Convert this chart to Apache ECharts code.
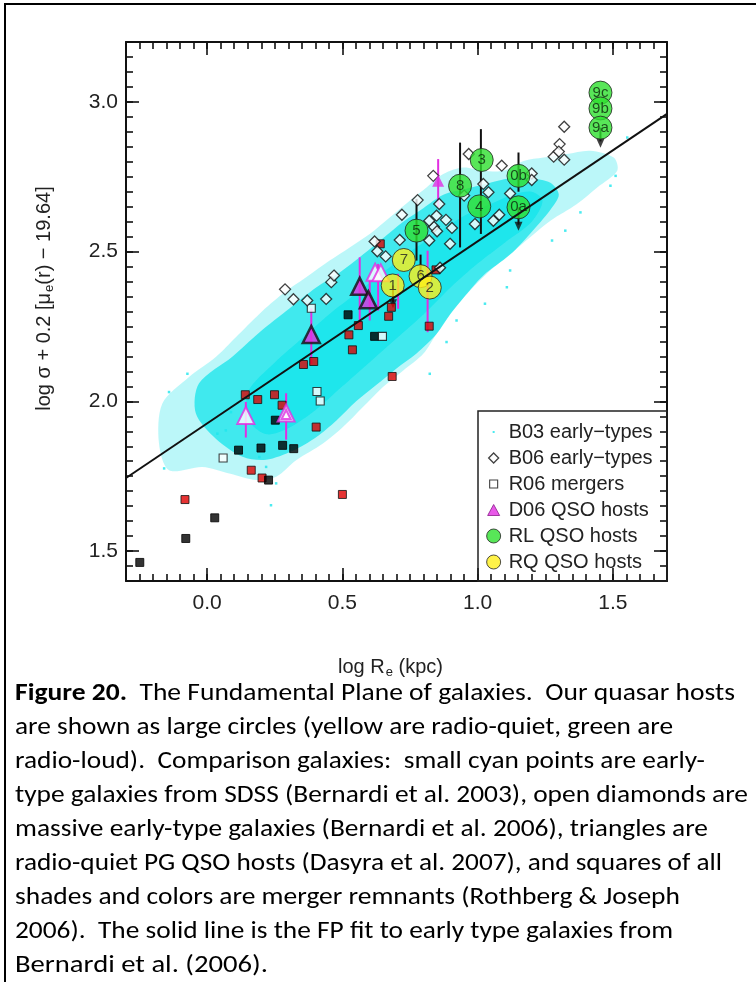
<!DOCTYPE html>
<html>
<head>
<meta charset="utf-8">
<title>Fundamental Plane of galaxies</title>
<script src="https://cdn.jsdelivr.net/npm/echarts@6/dist/echarts.min.js"></script>
<style>
  html, body { margin: 0; padding: 0; background: #fff; overflow: hidden; }
  #frame { position: absolute; left: 4px; top: 3px; width: 800px; height: 1000px;
           border-left: 2px solid #000; border-top: 2px solid #000; }
  #chart { position: absolute; left: 0; top: 0; width: 756px; height: 982px; }
  #caption { position: absolute; left: 15px; top: 675px; color: #000;
             font-family: Carlito, Lato, "Open Sans", sans-serif; font-size: 24px; line-height: 34px; }
  #caption div { white-space: nowrap; transform-origin: 0 50%; }
</style>
</head>
<body>
<div id="frame"></div>
<div id="chart"></div>
<div id="caption"></div>
<script>
// axes
const xMin = -0.3, xMax = 1.7;
const yMin = 1.4, yMax = 3.2;
const xMajor = [0.0, 0.5, 1.0, 1.5];
const yMajor = [1.5, 2.0, 2.5, 3.0];

// B03 early-types (SDSS) - outline of the dense core, the surrounding cloud and the sparse halo
const coreX = [0.150, 0.250, 0.350, 0.450, 0.550, 0.650, 0.750, 0.850, 0.950, 1.050, 1.130, 1.200, 1.240,
               1.200, 1.100, 1.000, 0.900, 0.800, 0.700, 0.600, 0.500, 0.400, 0.300, 0.220, 0.160];
const coreY = [2.030, 2.130, 2.210, 2.290, 2.360, 2.430, 2.500, 2.560, 2.620, 2.660, 2.690, 2.700, 2.670,
               2.600, 2.530, 2.460, 2.380, 2.290, 2.210, 2.130, 2.050, 1.970, 1.910, 1.890, 1.930];
const midX = [-0.030, 0.094, 0.193, 0.304, 0.403, 0.490, 0.576, 0.650, 0.725, 0.799, 0.873, 0.959, 1.046, 1.120, 1.194, 1.269, 1.300,
              1.269, 1.194, 1.120, 1.021, 0.947, 0.898, 0.848, 0.774, 0.700, 0.626, 0.551, 0.477, 0.403, 0.317, 0.218, 0.131, 0.032, -0.042];
const midY = [2.060, 2.150, 2.230, 2.310, 2.380, 2.430, 2.490, 2.545, 2.600, 2.645, 2.690, 2.710, 2.730, 2.745, 2.745, 2.730, 2.690,
              2.640, 2.560, 2.490, 2.420, 2.345, 2.290, 2.225, 2.160, 2.110, 2.055, 2.000, 1.935, 1.880, 1.835, 1.805, 1.815, 1.875, 1.960];
const haloX = [-0.166, -0.067, 0.032, 0.106, 0.193, 0.279, 0.366, 0.453, 0.527, 0.601, 0.675, 0.749, 0.811, 0.873, 0.947, 1.021,
               1.095, 1.170, 1.244, 1.330, 1.417, 1.503, 1.516, 1.442, 1.367, 1.269, 1.194, 1.120, 1.046, 0.972, 0.898, 0.848,
               0.799, 0.725, 0.650, 0.576, 0.502, 0.428, 0.329, 0.255, 0.181, 0.082, -0.017, -0.141, -0.178];
const haloY = [1.992, 2.081, 2.148, 2.214, 2.292, 2.359, 2.414, 2.470, 2.514, 2.559, 2.614, 2.670, 2.714, 2.759, 2.781, 2.770,
               2.770, 2.803, 2.814, 2.826, 2.837, 2.814, 2.770, 2.714, 2.659, 2.603, 2.548, 2.492, 2.437, 2.370, 2.292, 2.226,
               2.159, 2.103, 2.048, 1.981, 1.914, 1.859, 1.803, 1.748, 1.737, 1.759, 1.781, 1.770, 1.859];
// stray B03 points
const b03X = [-0.141, -0.073, -0.159, 0.038, 0.069, 0.088, 0.193, 0.218, 0.236, 0.255, 1.491, 1.510, 1.553, 1.380, 1.324,
              1.275, 1.120, 1.108, 1.027, 0.922, 0.885, 0.823];
const b03Y = [2.031, 2.092, 1.776, 1.892, 1.903, 1.964, 1.814, 1.781, 1.653, 1.726, 2.720, 2.753, 2.881, 2.631, 2.570,
              2.537, 2.437, 2.381, 2.326, 2.270, 2.198, 2.092];

// B06 early-types (open diamonds)
const b06X = [0.288, 0.319, 0.370, 0.440, 0.459, 0.469, 0.619, 0.629, 0.660, 0.712, 0.720, 0.778, 0.821, 0.838, 0.848,
              0.858, 0.836, 0.883, 0.905, 0.898, 0.821, 0.850, 0.967, 0.990, 1.021, 1.040, 1.058, 1.080, 1.089, 1.120,
              1.200, 1.200, 1.320, 1.303, 1.281, 1.300, 1.320, 0.861, 0.950];
const b06Y = [2.374, 2.341, 2.337, 2.342, 2.398, 2.420, 2.534, 2.501, 2.484, 2.539, 2.623, 2.672, 2.537, 2.583, 2.620,
              2.659, 2.753, 2.606, 2.579, 2.526, 2.603, 2.568, 2.826, 2.592, 2.726, 2.698, 2.603, 2.623, 2.787, 2.694,
              2.761, 2.739, 2.917, 2.859, 2.817, 2.834, 2.807, 2.446, 2.687];

// R06 mergers: open, red and black squares
const r06OpenX = [0.059, 0.406, 0.418, 0.648, 0.385];
const r06OpenY = [1.811, 2.033, 2.001, 2.217, 2.311];
const r06RedX = [-0.082, 0.163, 0.203, 0.141, 0.187, 0.249, 0.277, 0.403, 0.500, 0.356, 0.394, 0.537, 0.524, 0.559,
                 0.684, 0.640, 0.671, 0.681, 0.821, 0.846];
const r06RedY = [1.672, 1.770, 1.744, 2.022, 2.006, 2.022, 1.987, 1.914, 1.689, 2.123, 2.133, 2.172, 2.222, 2.253,
                 2.083, 2.526, 2.284, 2.314, 2.251, 2.439];
const r06BlackX = [-0.249, -0.079, 0.028, 0.116, 0.199, 0.279, 0.320, 0.252, 0.227, 0.521, 0.619];
const r06BlackY = [1.462, 1.542, 1.611, 1.837, 1.844, 1.853, 1.842, 1.937, 1.737, 2.289, 2.217];

// D06 QSO hosts (triangles)
const d06X = [0.385, 0.564, 0.596];
const d06Y = [2.223, 2.384, 2.339];
const d06OpenX = [0.143, 0.292, 0.621, 0.642];
const d06OpenY = [1.953, 1.961, 2.431, 2.429];
const d06PlainX = [0.854];
const d06PlainY = [2.737];
const d06BarX = [0.143, 0.292, 0.385, 0.564, 0.601, 0.632, 0.706, 0.815, 0.854];
const d06BarLo = [1.879, 1.872, 2.125, 2.259, 2.270, 2.303, 2.309, 2.231, 2.648];
const d06BarHi = [1.998, 2.027, 2.310, 2.481, 2.403, 2.459, 2.426, 2.503, 2.809];

// our quasar hosts
const rlNames = ['9c', '9b', '9a', '3', '8', '4', '0b', '0a', '5'];
const rlX = [1.454, 1.454, 1.454, 1.015, 0.935, 1.006, 1.151, 1.151, 0.774];
const rlY = [3.031, 2.978, 2.914, 2.806, 2.720, 2.651, 2.753, 2.648, 2.570];
const rqNames = ['7', '1', '6', '2'];
const rqX = [0.727, 0.686, 0.789, 0.823];
const rqY = [2.472, 2.387, 2.418, 2.380];
const qsoBarX = [0.935, 1.012, 1.151, 0.774, 1.151, 1.454, 0.687, 0.789];
const qsoBarLo = [2.514, 2.559, 2.700, 2.470, 2.590, 2.868, 2.330, 2.418];
const qsoBarHi = [2.864, 2.909, 2.831, 2.676, 2.648, 2.914, 2.387, 2.490];
const limitX = [1.151, 1.454, 0.687];
const limitY = [2.585, 2.862, 2.326];

// FP fit (Bernardi et al. 2006)
const fitX = [-0.3, 1.7];
const fitY = [1.744, 2.960];

const captionLines = [
  '<b>Figure 20.</b>&nbsp; The Fundamental Plane of galaxies.&nbsp; Our quasar hosts',
  'are shown as large circles (yellow are radio-quiet, green are',
  'radio-loud).&nbsp; Comparison galaxies:&nbsp; small cyan points are early-',
  'type galaxies from SDSS (Bernardi et al. 2003), open diamonds are',
  'massive early-type galaxies (Bernardi et al. 2006), triangles are',
  'radio-quiet PG QSO hosts (Dasyra et al. 2007), and squares of all',
  'shades and colors are merger remnants (Rothberg &amp; Joseph',
  '2006).&nbsp; The solid line is the FP fit to early type galaxies from',
  'Bernardi et al. (2006).'
];
const captionEnds = [735, 673, 705, 748, 708, 722, 680, 673, 268];

const pairs = (xs, ys) => xs.map((x, i) => [x, ys[i]]);
const CYAN = '#1ee6ec';
const MAGENTA = '#e22ee2';
const FONT = 'Liberation Sans';

function polygonSeries(xs, ys, fill) {
  return {
    type: 'custom', silent: true, clip: true,
    data: pairs(xs, ys),
    renderItem: (params, api) => {
      if (params.dataIndex !== 0) return;
      const pts = xs.map((x, i) => api.coord([x, ys[i]]));
      return { type: 'polygon', shape: { points: pts, smooth: 0.3 }, style: { fill: fill } };
    }
  };
}

function barSeries(xs, lo, hi, color) {
  return {
    type: 'custom', silent: true,
    data: xs.map((x, i) => [x, lo[i], hi[i]]),
    encode: { x: 0, y: [1, 2] },
    renderItem: (params, api) => {
      const a = api.coord([api.value(0), api.value(1)]);
      const b = api.coord([api.value(0), api.value(2)]);
      return { type: 'line', shape: { x1: a[0], y1: a[1], x2: b[0], y2: b[1] },
               style: { stroke: color, lineWidth: 2 } };
    }
  };
}

function xAxisOf(pos, major) {
  const ax = {
    type: 'value', min: xMin, max: xMax, position: pos,
    splitLine: { show: false },
    axisLine: { show: major, onZero: false, lineStyle: { color: '#111', width: 2 } },
    axisTick: { inside: true, length: major ? 13 : 7, lineStyle: { color: '#111', width: 1.6 } },
    axisLabel: { show: false }
  };
  if (major) ax.axisTick.customValues = xMajor; else ax.interval = 0.05;
  return ax;
}
function yAxisOf(pos, major) {
  const ax = {
    type: 'value', min: yMin, max: yMax, position: pos,
    splitLine: { show: false },
    axisLine: { show: major, onZero: false, lineStyle: { color: '#111', width: 2 } },
    axisTick: { inside: true, length: major ? 13 : 7, lineStyle: { color: '#111', width: 1.6 } },
    axisLabel: { show: false }
  };
  if (major) ax.axisTick.customValues = yMajor; else ax.interval = 0.05;
  return ax;
}

const xBottom = xAxisOf('bottom', true);
xBottom.axisLabel = { show: true, customValues: xMajor, formatter: v => v.toFixed(1),
                      margin: 12, fontSize: 21, color: '#222', fontFamily: FONT };
xBottom.name = '{a|log R}{s|e}{a| (kpc)}';
xBottom.nameLocation = 'middle';
xBottom.nameGap = 74;
xBottom.nameTextStyle = { color: '#222', fontFamily: FONT, padding: [0, 12, 0, 0],
  rich: { a: { fontSize: 20, lineHeight: 24, color: '#222', fontFamily: FONT },
          s: { fontSize: 13, lineHeight: 14, padding: [10, 0, 0, 1], color: '#222', fontFamily: FONT } } };

const yLeft = yAxisOf('left', true);
yLeft.axisLabel = { show: true, customValues: yMajor, formatter: v => v.toFixed(1),
                    margin: 8, fontSize: 21, color: '#222', fontFamily: FONT };
yLeft.name = '{a|log σ + 0.2 [μ}{s|e}{a|(r) − 19.64]}';
yLeft.nameLocation = 'middle';
yLeft.nameGap = 70;
yLeft.nameTextStyle = { color: '#222', fontFamily: FONT, padding: [0, 0, 0, 26],
  rich: { a: { fontSize: 20, lineHeight: 24, color: '#222', fontFamily: FONT },
          s: { fontSize: 13, lineHeight: 14, padding: [10, 0, 0, 1], color: '#222', fontFamily: FONT } } };

const rect = 'path://M0,0M14,14M3,3L11,3L11,11L3,11Z';
const chart = echarts.init(document.getElementById('chart'));
chart.setOption({
  animation: false,
  backgroundColor: 'transparent',
  grid: { left: 126, top: 42, right: 89, bottom: 401, containLabel: false, outerBoundsMode: 'none' },
  xAxis: [xBottom, xAxisOf('bottom', false), xAxisOf('top', true), xAxisOf('top', false)],
  yAxis: [yLeft, yAxisOf('left', false), yAxisOf('right', true), yAxisOf('right', false)],
  legend: {
    orient: 'vertical', left: 478, top: 410, padding: [12, 0, 0, 8],
    itemGap: 6, itemWidth: 14, itemHeight: 14, selectedMode: false,
    textStyle: { fontSize: 20, lineHeight: 18, color: '#222', fontFamily: FONT, padding: [0, 0, 0, 3] },
    data: [
      { name: 'B03 early−types', icon: 'path://M0,0M14,14M6,6L8,6L8,8L6,8Z', itemStyle: { color: CYAN, borderWidth: 0 } },
      { name: 'B06 early−types', icon: 'path://M0,0M14,14M7,2L12,7L7,12L2,7Z', itemStyle: { color: '#fff', borderColor: '#111', borderWidth: 1.3 } },
      { name: 'R06 mergers', icon: rect, itemStyle: { color: '#fff', borderColor: '#111', borderWidth: 1.1 } },
      { name: 'D06 QSO hosts', icon: 'path://M0,0M14,14M7,1.5L13,12.5L1,12.5Z', itemStyle: { color: MAGENTA, borderColor: '#8a1a8a', borderWidth: 1 } },
      { name: 'RL QSO hosts', icon: 'circle', itemStyle: { color: '#2ee02e', borderColor: '#222', borderWidth: 1 } },
      { name: 'RQ QSO hosts', icon: 'circle', itemStyle: { color: '#ffef1a', borderColor: '#222', borderWidth: 1 } }
    ]
  },
  graphic: [
    { type: 'rect', z: 100, silent: true, shape: { x: 478, y: 411, width: 189, height: 170 },
      style: { fill: 'none', stroke: '#222', lineWidth: 1.5 } }
  ],
  series: [
    polygonSeries(haloX, haloY, 'rgba(30,230,236,0.3)'),
    polygonSeries(midX, midY, 'rgba(30,230,236,0.78)'),
    polygonSeries(coreX, coreY, CYAN),
    { name: 'B03 early−types', type: 'scatter', data: pairs(b03X, b03Y), symbol: 'rect', symbolSize: 2.5,
      itemStyle: { color: CYAN } },
    { type: 'line', data: pairs(fitX, fitY), symbol: 'none', silent: true,
      lineStyle: { color: '#111', width: 2 } },
    barSeries(qsoBarX, qsoBarLo, qsoBarHi, '#111'),
    barSeries(d06BarX, d06BarLo, d06BarHi, MAGENTA),
    { type: 'scatter', data: pairs(limitX, limitY), symbol: 'triangle', symbolRotate: 180, symbolSize: [8, 9],
      itemStyle: { color: '#111' } },
    { type: 'scatter', data: pairs(r06RedX, r06RedY), symbol: 'rect', symbolSize: 8,
      itemStyle: { color: '#e00000', borderColor: '#111', borderWidth: 1 } },
    { type: 'scatter', data: pairs(r06BlackX, r06BlackY), symbol: 'rect', symbolSize: 8,
      itemStyle: { color: '#000', borderColor: '#000', borderWidth: 1 } },
    { name: 'R06 mergers', type: 'scatter', data: pairs(r06OpenX, r06OpenY), symbol: 'rect', symbolSize: 8,
      itemStyle: { color: '#fff', borderColor: '#111', borderWidth: 1.1 } },
    { name: 'B06 early−types', type: 'scatter', data: pairs(b06X, b06Y), symbol: 'diamond', symbolSize: 11,
      itemStyle: { color: '#fff', borderColor: '#111', borderWidth: 1.3 } },
    { type: 'scatter', data: pairs(d06OpenX, d06OpenY).concat([{ value: [d06OpenX[1], d06OpenY[1] - 0.005], symbolSize: 9 }]),
      symbol: 'triangle', symbolSize: 17,
      itemStyle: { color: '#fff', borderColor: MAGENTA, borderWidth: 2 } },
    { type: 'scatter', data: pairs(d06PlainX, d06PlainY), symbol: 'triangle', symbolSize: 12,
      itemStyle: { color: MAGENTA } },
    { name: 'D06 QSO hosts', type: 'scatter', data: pairs(d06X, d06Y), symbol: 'triangle', symbolSize: 17,
      itemStyle: { color: MAGENTA, borderColor: '#111', borderWidth: 2.5 } },
    { name: 'RL QSO hosts', type: 'scatter', symbolSize: 23,
      data: rlNames.map((n, i) => ({ name: n, value: [rlX[i], rlY[i]] })),
      itemStyle: { color: '#2ee02e', borderColor: '#222', borderWidth: 1 },
      label: { show: true, position: 'inside', formatter: '{b}', fontSize: 15, color: '#0d260d', fontFamily: FONT } },
    { name: 'RQ QSO hosts', type: 'scatter', symbolSize: 23,
      data: rqNames.map((n, i) => ({ name: n, value: [rqX[i], rqY[i]] })),
      itemStyle: { color: '#ffef1a', borderColor: '#222', borderWidth: 1 },
      label: { show: true, position: 'inside', formatter: '{b}', fontSize: 15, color: '#222', fontFamily: FONT } }
  ]
});

// caption: one div per printed line, stretched to the line widths of the original
const cap = document.getElementById('caption');
captionLines.forEach((html, i) => {
  const d = document.createElement('div');
  const span = document.createElement('span');
  span.innerHTML = html;
  d.appendChild(span);
  cap.appendChild(d);
  const w = span.getBoundingClientRect().width;
  const target = captionEnds[i] - 15;
  d.style.transform = 'scaleX(' + (target / w).toFixed(4) + ')';
});
</script>
</body>
</html>
